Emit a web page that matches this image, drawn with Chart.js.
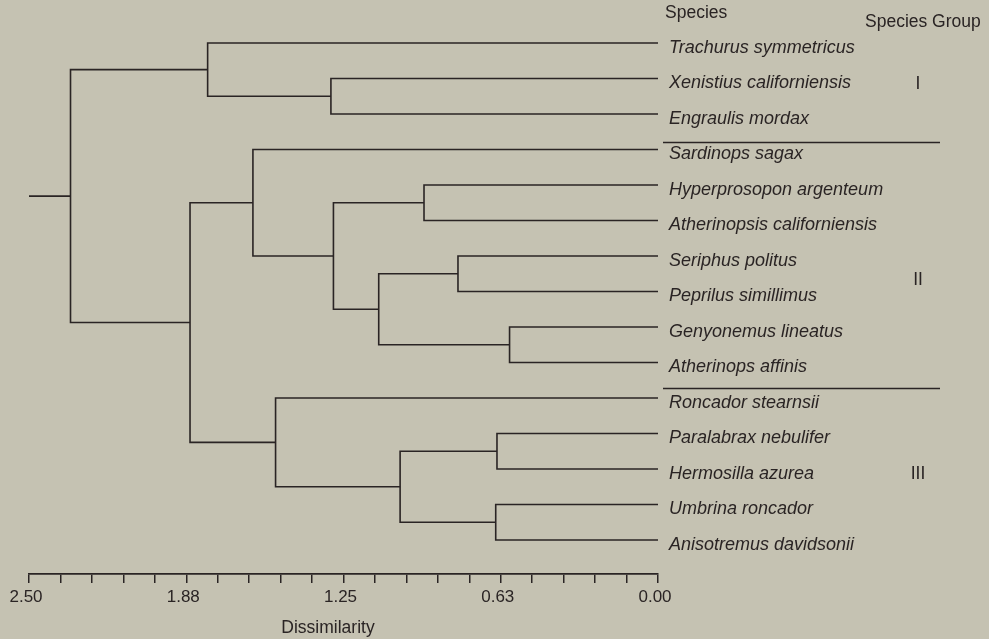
<!DOCTYPE html>
<html>
<head>
<meta charset="utf-8">
<script src="https://cdn.jsdelivr.net/npm/chart.js@4.4.1/dist/chart.umd.min.js"></script>
<style>
  html, body { margin: 0; padding: 0; background: #c5c2b2; }
  canvas { display: block; }
</style>
</head>
<body>
<canvas id="c" width="989" height="639"></canvas>
<script>
// ---------- data ----------
const species = [
  'Trachurus symmetricus', 'Xenistius californiensis', 'Engraulis mordax',
  'Sardinops sagax', 'Hyperprosopon argenteum', 'Atherinopsis californiensis',
  'Seriphus politus', 'Peprilus simillimus', 'Genyonemus lineatus',
  'Atherinops affinis', 'Roncador stearnsii', 'Paralabrax nebulifer',
  'Hermosilla azurea', 'Umbrina roncador', 'Anisotremus davidsonii'
];
// linkage: cluster ids < 15 are leaves, id 15+k is the k-th merge
const mergeLeft   = [1, 0, 4, 6, 8, 18, 17, 3, 11, 13, 23, 10, 22, 16];
const mergeRight  = [2, 15, 5, 7, 9, 19, 20, 21, 12, 14, 24, 25, 26, 27];
const mergeHeight = [1.30, 1.79, 0.93, 0.795, 0.59, 1.11, 1.29, 1.61, 0.64, 0.645, 1.025, 1.52, 1.86, 2.335];
const axisMax = 2.5;
const tickValues = [2.5, 1.875, 1.25, 0.625, 0];
const tickLabels = ['2.50', '1.88', '1.25', '0.63', '0.00'];
const groupLabels = ['I', 'II', 'III'];
const groupBreaks = [2.8, 9.72];        // separators, in leaf-row units
const groupLabelRows = [1.15, 6.68, 12.15];

// ---------- build dendrogram segments ----------
const nodeY = species.map((_, i) => i);
const nodeH = species.map(() => 0);
mergeHeight.forEach((h, k) => {
  const l = mergeLeft[k], r = mergeRight[k];
  nodeY.push((nodeY[l] + nodeY[r]) / 2);
  nodeH.push(h);
});
const ink = '#2a2424';
const datasets = mergeHeight.map((h, k) => {
  const l = mergeLeft[k], r = mergeRight[k];
  return {
    data: [
      { x: nodeH[l], y: nodeY[l] }, { x: h, y: nodeY[l] },
      { x: h, y: nodeY[r] }, { x: nodeH[r], y: nodeY[r] }
    ]
  };
});
const rootId = nodeY.length - 1;
datasets.push({ data: [{ x: nodeH[rootId], y: nodeY[rootId] }, { x: axisMax, y: nodeY[rootId] }] });
datasets.forEach(d => Object.assign(d, {
  showLine: true, borderColor: ink, borderWidth: 1.6, pointRadius: 0,
  fill: false, tension: 0
}));

const FONT = 'Liberation Sans, Arial, Helvetica, sans-serif';

const decor = {
  id: 'decor',
  beforeDraw(chart) {
    const ctx = chart.ctx;
    ctx.save();
    ctx.fillStyle = '#c5c2b2';
    ctx.fillRect(0, 0, chart.width, chart.height);
    ctx.restore();
  },
  afterDraw(chart) {
    const ctx = chart.ctx, ys = chart.scales.y;
    ctx.save();
    ctx.fillStyle = ink;
    ctx.textBaseline = 'middle';
    ctx.font = '17.5px ' + FONT;
    ctx.textAlign = 'left';
    ctx.fillText('Species', 665, 13);
    ctx.fillText('Species Group', 865, 22);
    ctx.textAlign = 'center';
    groupLabels.forEach((g, i) => ctx.fillText(g, 918, ys.getPixelForValue(groupLabelRows[i])));
    ctx.fillText('Dissimilarity', 328, 628);
    ctx.strokeStyle = ink;
    ctx.lineWidth = 1.4;
    groupBreaks.forEach(v => {
      const y = Math.round(ys.getPixelForValue(v)) + 0.5;
      ctx.beginPath(); ctx.moveTo(663, y); ctx.lineTo(940, y); ctx.stroke();
    });
    ctx.restore();
  }
};

new Chart(document.getElementById('c'), {
  type: 'scatter',
  data: { datasets },
  plugins: [decor],
  options: {
    responsive: false,
    devicePixelRatio: 1,
    animation: false,
    layout: { padding: { left: 29, right: 0, top: 0, bottom: 0 } },
    plugins: { legend: { display: false }, tooltip: { enabled: false } },
    scales: {
      x: {
        type: 'linear', position: 'bottom', reverse: true,
        min: 0, max: axisMax,
        afterFit(s) { s.height = 65; s.paddingLeft = 0; s.paddingRight = 0; },
        border: { display: true, color: ink, width: 1.8 },
        grid: { display: true, drawOnChartArea: false, drawTicks: true, tickLength: 9, color: ink, lineWidth: 1.5 },
        ticks: {
          stepSize: 0.125, autoSkip: false, maxRotation: 0, padding: 4, labelOffset: -3,
          color: ink, font: { family: FONT, size: 17 },
          callback(v) {
            const i = tickValues.findIndex(t => Math.abs(t - v) < 1e-6);
            return i >= 0 ? tickLabels[i] : '';
          }
        }
      },
      y: {
        type: 'linear', position: 'right', reverse: true,
        min: -1.2113, max: 14.958,
        afterFit(s) { s.width = 331; s.paddingTop = 0; s.paddingBottom = 0; },
        afterBuildTicks(s) { s.ticks = species.map((_, i) => ({ value: i })); },
        border: { display: false },
        grid: { display: false },
        ticks: {
          autoSkip: false, padding: 3, labelOffset: 5,
          color: ink, font: { family: FONT, size: 18, style: 'italic' },
          callback(v) { return species[v]; }
        }
      }
    }
  }
});
</script>
</body>
</html>
